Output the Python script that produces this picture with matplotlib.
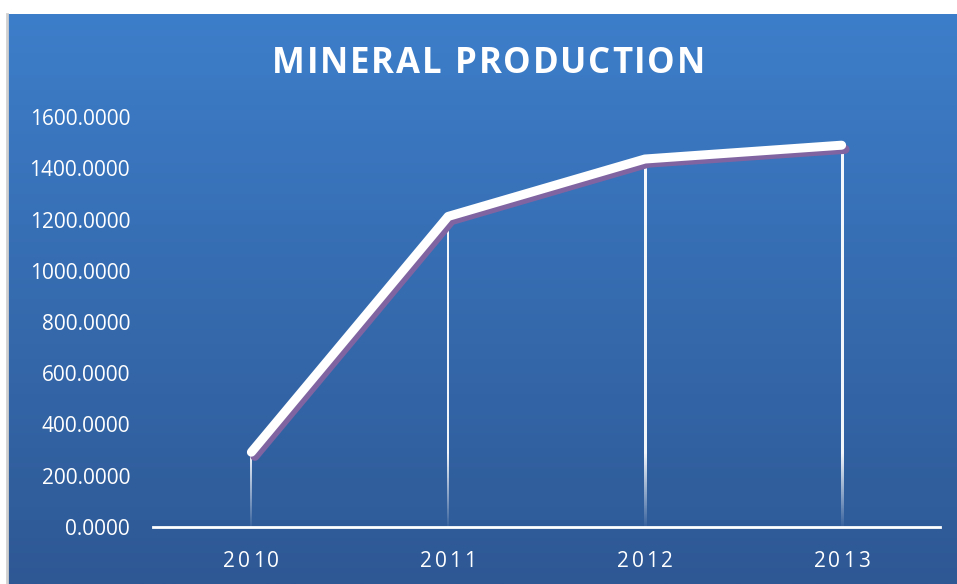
import numpy as np
import matplotlib.pyplot as plt
import matplotlib.patheffects as pe

years = ['2010', '2011', '2012', '2013']
production = [292, 1212, 1436, 1490]
yticks = [0, 200, 400, 600, 800, 1000, 1200, 1400, 1600]

plt.rcParams['font.family'] = ['Open Sans', 'DejaVu Sans']

W, H = 957, 584
fig = plt.figure(figsize=(W / 100, H / 100), dpi=100)
fig.patch.set_facecolor('white')
renderer = fig.canvas.get_renderer()


def spaced_text(s, cx, baseline, width, space_gap=0, **kw):
    # text with letter spacing: place each char so the whole string spans `width` px
    widths = []
    for ch in s:
        if ch == ' ':
            widths.append(None)
            continue
        t = fig.text(0, 0, ch, **kw)
        widths.append(t.get_window_extent(renderer).width)
        t.remove()
    ink = sum(w for w in widths if w is not None)
    nsp = widths.count(None)
    gaps = len(s) - 1 - 2 * nsp
    track = (width - ink - nsp * space_gap) / gaps
    x = cx - width / 2
    for ch, w in zip(s, widths):
        if w is None:
            x += space_gap - track
            continue
        fig.text(x / W, 1 - baseline / H, ch, ha='left', va='baseline', **kw)
        x += w + track


# blue gradient panel behind the chart
bg = fig.add_axes([7 / W, 0, (W - 7) / W, (H - 14) / H], zorder=-1)
top = np.array([61, 126, 202]) / 255
bot = np.array([46, 88, 148]) / 255
t = np.linspace(0, 1, 256)[:, None]
grad = (top[None, :] * (1 - t) + bot[None, :] * t)[:, None, :]
bg.imshow(grad, aspect='auto', extent=[0, 1, 0, 1])
bg.axis('off')
fig.add_artist(plt.Line2D([7 / W, 7 / W], [0, (H - 14) / H], color='#d0d0d0', lw=2))

ax = fig.add_axes([153 / W, 1 - 527 / H, (940 - 153) / W, (527 - 117) / H])
ax.patch.set_alpha(0)
x = np.arange(len(years))

# drop lines fading towards the axis
hw = 1.0 / ((940 - 153) / 4)
for xi, yi in zip(x, production):
    v = np.linspace(yi, 0, 200)
    strip = np.ones((200, 1, 4))
    strip[:, 0, 3] = np.clip(0.05 + v / 320, 0, 0.95)
    ax.imshow(strip, aspect='auto', extent=[xi - hw, xi + hw, 0, yi],
              interpolation='bilinear', zorder=2)

ax.plot(x, production, color='white', lw=6.5, solid_capstyle='round', zorder=3,
        path_effects=[pe.SimpleLineShadow(offset=(2.5, -3), shadow_color='#8064a2',
                                          alpha=1.0, rho=1.0),
                      pe.Normal()])

ax.set_xlim(-0.5, 3.5)
ax.set_ylim(0, 1600)
ax.set_xticks(x)
ax.set_xticklabels([])
ax.set_yticks(yticks)
ax.set_yticklabels([f'{v:.4f}' for v in yticks])
ax.tick_params(length=0, colors='white', labelsize=15)
ax.tick_params(axis='y', pad=16.5)
for s in ['top', 'right', 'left']:
    ax.spines[s].set_visible(False)
ax.spines['bottom'].set_color('white')
ax.spines['bottom'].set_linewidth(2)

for xi, lab in zip(x, years):
    px = 153 + (xi + 0.5) * (940 - 153) / 4
    spaced_text(lab, px, 567, 56, color='white', fontsize=15)

spaced_text('MINERAL PRODUCTION', 488.5, 73, 433, space_gap=14, color='white',
            fontsize=25, fontweight='bold')

fig.savefig('out.png', dpi=100)
